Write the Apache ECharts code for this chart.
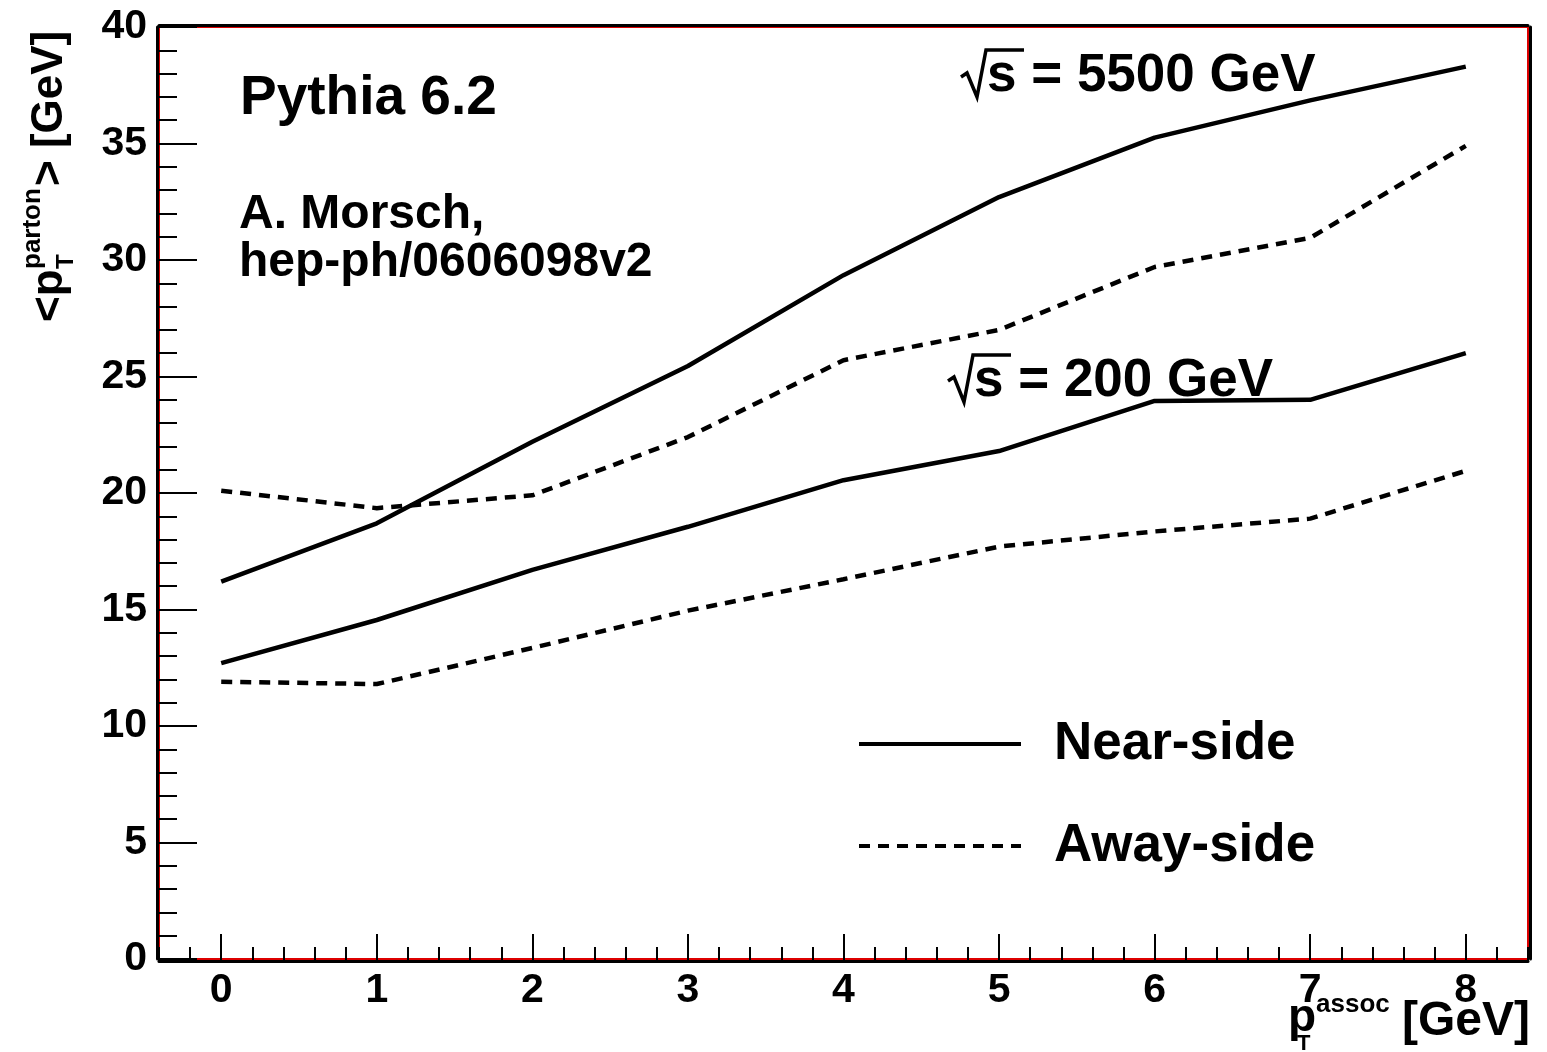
<!DOCTYPE html>
<html>
<head>
<meta charset="utf-8">
<title>Mean parton pT vs associated pT</title>
<script src="https://cdn.jsdelivr.net/npm/echarts@6/dist/echarts.min.js"></script>
<style>
  html, body { margin: 0; padding: 0; background: #fff; }
  #chart { width: 1547px; height: 1052px; }
</style>
</head>
<body>
<div id="chart"></div>
<script>
// p_T^assoc bins (GeV)
const ptAssoc = [0, 1, 2, 3, 4, 5, 6, 7, 8];

// <p_T^parton> (GeV), sqrt(s) = 5500 GeV
const near5500 = [16.2, 18.7, 22.2, 25.45, 29.35, 32.7, 35.25, 36.85, 38.3];
const away5500 = [20.1, 19.35, 19.9, 22.4, 25.7, 27.0, 29.7, 30.95, 34.9];

// <p_T^parton> (GeV), sqrt(s) = 200 GeV
const near200 = [12.7, 14.55, 16.7, 18.55, 20.55, 21.8, 23.95, 24.0, 26.0];
const away200 = [11.9, 11.8, 13.35, 14.95, 16.3, 17.7, 18.35, 18.9, 20.95];

// axis ticks
const xMajorTicks = [0, 1, 2, 3, 4, 5, 6, 7, 8];
const xRange = [-0.4, 8.4];
const yRange = [0, 40];

const xMinorTicks = [];
for (let i = -2; i <= 42; i++) {
  if (i % 5 !== 0) xMinorTicks.push(+(i * 0.2).toFixed(1));
}

const FONT = '"Liberation Sans", Arial, Helvetica, sans-serif';
const BLACK = '#000000';
const FRAME_RED = '#dd0000';

function pairs(xs, ys) { return xs.map((x, i) => [x, ys[i]]); }

const chart = echarts.init(document.getElementById('chart'), null, { renderer: 'canvas' });

const solid = { color: BLACK, width: 4.5, type: 'solid' };
const dashed = { color: BLACK, width: 4.5, type: [11, 8] };

function lineSeries(name, ys, style) {
  return {
    type: 'line', name: name, data: pairs(ptAssoc, ys),
    xAxisIndex: 0, yAxisIndex: 0,
    symbol: 'none', showSymbol: false, smooth: false,
    lineStyle: style, itemStyle: { color: BLACK },
    emphasis: { disabled: true }, silent: true, z: 3
  };
}

function txt(x, y, text, size, align) {
  return {
    type: 'text', x: x, y: y, silent: true,
    style: {
      text: text, fill: BLACK, align: align || 'left', verticalAlign: 'middle',
      font: 'bold ' + size + 'px ' + FONT
    }
  };
}

const option = {
  backgroundColor: '#ffffff',
  animation: false,
  grid: {
    left: 159, right: 19, top: 27, bottom: 93,
    show: true, borderColor: FRAME_RED, borderWidth: 2, backgroundColor: 'transparent'
  },
  legend: {
    left: 852, top: 709, orient: 'vertical',
    itemWidth: 162, itemHeight: 12, itemGap: 42,
    selectedMode: false,
    data: ['Near-side', 'Away-side'],
    itemStyle: { opacity: 0 },
    lineStyle: { width: 4 },
    textStyle: { fontFamily: FONT, fontSize: 53, fontWeight: 'bold', color: BLACK,
                 lineHeight: 60, padding: [0, 0, 0, 28] }
  },
  xAxis: [
    {
      type: 'value', min: xRange[0], max: xRange[1], position: 'bottom', offset: 2,
      axisLine: { onZero: false, lineStyle: { color: BLACK, width: 3 } },
      axisTick: { inside: true, length: 27, customValues: xMajorTicks, lineStyle: { color: BLACK, width: 2 } },
      axisLabel: { customValues: xMajorTicks, margin: 9, fontFamily: FONT, fontSize: 41,
                   fontWeight: 'bold', color: BLACK },
      splitLine: { show: false }
    },
    {
      type: 'value', min: xRange[0], max: xRange[1], position: 'bottom', offset: 2,
      axisLine: { show: false, onZero: false },
      axisTick: { inside: true, length: 14, customValues: xMinorTicks, lineStyle: { color: BLACK, width: 2 } },
      axisLabel: { show: false },
      splitLine: { show: false }
    },
    {
      type: 'value', min: xRange[0], max: xRange[1], position: 'top', offset: 2,
      axisLine: { onZero: false, lineStyle: { color: BLACK, width: 3 } },
      axisTick: { show: false }, axisLabel: { show: false }, splitLine: { show: false }
    }
  ],
  yAxis: [
    {
      type: 'value', min: yRange[0], max: yRange[1], interval: 5, position: 'left', offset: 2,
      axisLine: { onZero: false, lineStyle: { color: BLACK, width: 3 } },
      axisTick: { inside: true, length: 40, lineStyle: { color: BLACK, width: 2 } },
      minorTick: { show: true, splitNumber: 5, length: 20, lineStyle: { color: BLACK, width: 2 } },
      axisLabel: { margin: 10, padding: [7, 0, 0, 0], fontFamily: FONT, fontSize: 41,
                   fontWeight: 'bold', color: BLACK },
      splitLine: { show: false }, minorSplitLine: { show: false }
    },
    {
      type: 'value', min: yRange[0], max: yRange[1], position: 'right', offset: 2,
      axisLine: { onZero: false, lineStyle: { color: BLACK, width: 3 } },
      axisTick: { show: false }, axisLabel: { show: false }, splitLine: { show: false }
    }
  ],
  series: [
    lineSeries('Near-side', near5500, solid),
    lineSeries('Away-side', away5500, dashed),
    lineSeries('Near-side', near200, solid),
    lineSeries('Away-side', away200, dashed)
  ],
  graphic: [
    // annotations in the upper left
    txt(240, 99, 'Pythia 6.2', 55),
    txt(239, 215, 'A. Morsch,', 48),
    txt(239, 263, 'hep-ph/0606098v2', 48),

    // sqrt(s) = 5500 GeV
    { type: 'polyline', silent: true,
      shape: { points: [[961, 77], [967, 73], [977, 97], [986, 50], [1024, 50]] },
      style: { stroke: BLACK, lineWidth: 3.5, fill: null } },
    txt(987, 76, 's = 5500 GeV', 53),

    // sqrt(s) = 200 GeV
    { type: 'polyline', silent: true,
      shape: { points: [[948, 381], [954, 377], [964, 402], [973, 355], [1011, 355]] },
      style: { stroke: BLACK, lineWidth: 3.5, fill: null } },
    txt(974, 381, 's = 200 GeV', 53),

    // x-axis title: p_T^assoc [GeV]
    txt(1288, 1018, 'p', 46),
    txt(1297, 1044, 'T', 22),
    txt(1316, 1005, 'assoc', 26),
    txt(1530, 1022, '[GeV]', 48, 'right'),

    // y-axis title: <p_T^parton> [GeV], rotated
    {
      type: 'group', x: 66, y: 322, rotation: Math.PI / 2, silent: true,
      children: [
        txt(0, -16, '<p', 44),
        txt(53, 0, 'T', 24),
        txt(53, -33, 'parton', 26),
        txt(136, -16, '> [GeV]', 44)
      ]
    }
  ]
};

chart.setOption(option);
</script>
</body>
</html>
